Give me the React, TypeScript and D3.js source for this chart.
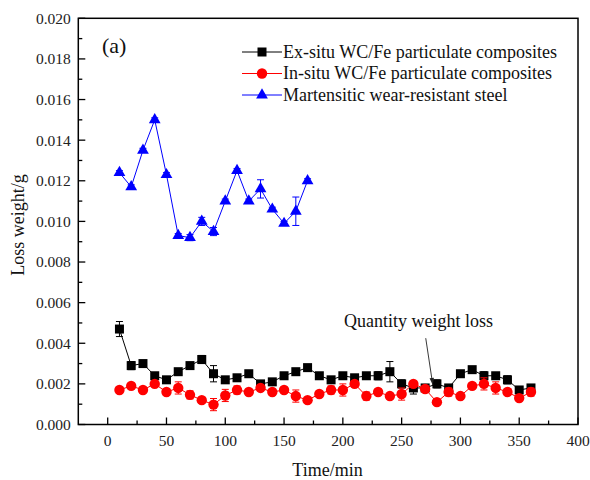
import React from "react";
import * as d3 from "d3";

const TIME_LONG = [10, 20, 30, 40, 50, 60, 70, 80, 90, 100, 110, 120, 130, 140, 150, 160, 170, 180, 190, 200, 210, 220, 230, 240, 250, 260, 270, 280, 290, 300, 310, 320, 330, 340, 350, 360];
const EX_SITU = [0.0047, 0.0029, 0.0030, 0.0024, 0.0022, 0.0026, 0.0029, 0.0032, 0.0025, 0.0022, 0.0023, 0.0025, 0.0020, 0.0021, 0.0024, 0.0026, 0.0028, 0.0024, 0.0022, 0.0024, 0.0023, 0.0024, 0.0024, 0.0026, 0.0020, 0.0018, 0.0018, 0.0020, 0.0018, 0.0025, 0.0027, 0.0024, 0.0024, 0.0022, 0.0017, 0.0018];
const EX_SITU_ERR = [0.00037, 0.0002, 0.0001, 0.0001, 0.0001, 0.0001, 0.0001, 0.0002, 0.0004, 0.0001, 0.0001, 0.0001, 0.0001, 0.0001, 0.0001, 0.00015, 0.0001, 0.0001, 0.00015, 0.0001, 0.0001, 0.00015, 0.0002, 0.0005, 0.0002, 0.0003, 0.0001, 0.0002, 0.0001, 0.0001, 0.0001, 0.0002, 0.0001, 0.0002, 0.0001, 0.0001];
const IN_SITU = [0.0017, 0.0019, 0.0017, 0.0020, 0.0016, 0.0018, 0.00146, 0.0012, 0.00098, 0.00143, 0.0017, 0.0016, 0.0018, 0.0016, 0.0017, 0.0014, 0.0012, 0.0015, 0.0017, 0.0017, 0.0020, 0.0014, 0.0016, 0.0014, 0.0015, 0.0020, 0.00175, 0.0011, 0.0016, 0.0014, 0.0019, 0.0020, 0.0018, 0.0016, 0.0013, 0.0016];
const IN_SITU_ERR = [0.0001, 0.0001, 0.0001, 0.0001, 0.0001, 0.0003, 0.0002, 0.0001, 0.0003, 0.0003, 0.0002, 0.0001, 0.0001, 0.0001, 0.0001, 0.0003, 0.0001, 0.0001, 0.0002, 0.0003, 0.0001, 0.0002, 0.0001, 0.0001, 0.0003, 0.0001, 0.0001, 0.0001, 0.0002, 0.0001, 0.0001, 0.0003, 0.0003, 0.0001, 0.0001, 0.0002];
const TIME_SHORT = [10, 20, 30, 40, 50, 60, 70, 80, 90, 100, 110, 120, 130, 140, 150, 160, 170];
const STEEL = [0.0124, 0.0117, 0.0135, 0.0150, 0.0123, 0.0093, 0.0092, 0.0100, 0.0095, 0.0110, 0.0125, 0.0110, 0.0116, 0.0106, 0.0099, 0.0105, 0.0120];
const STEEL_ERR = [0.0001, 0.0001, 0.0001, 0.0001, 0.0001, 0.0001, 0.00015, 0.0002, 0.0002, 0.0001, 0.0001, 0.0001, 0.00045, 0.0001, 0.0001, 0.0007, 0.0001];

const X_TICKS = [0, 50, 100, 150, 200, 250, 300, 350, 400];
const X_MINOR = [25, 75, 125, 175, 225, 275, 325, 375];
const Y_TICKS = [0, 0.002, 0.004, 0.006, 0.008, 0.01, 0.012, 0.014, 0.016, 0.018, 0.02];
const Y_MINOR = [0.001, 0.003, 0.005, 0.007, 0.009, 0.011, 0.013, 0.015, 0.017, 0.019];

const SERIES_NAMES = ["Ex-situ WC/Fe particulate composites", "In-situ WC/Fe particulate composites", "Martensitic wear-resistant steel"];
const SERIES_COLORS = ["#000000", "#ff0000", "#0000ff"];
const ANNOT_TEXT = "Quantity weight loss";
const ANNOT_POS = [201, 0.0048];
const ARROW_FROM = [270.5, 0.00425];
const ARROW_TO = [276.5, 0.00195];

const W = 590, H = 480;
const FONT = "'Liberation Serif', 'Times New Roman', serif";

export default function App() {
  const x = d3.scaleLinear().domain([-25, 400]).range([78.3, 578]);
  const y = d3.scaleLinear().domain([0, 0.02]).range([424.5, 18.3]);
  const fmt = d3.format(".3f");

  const series = [
    { t: TIME_LONG, v: EX_SITU, e: EX_SITU_ERR, shape: "square" },
    { t: TIME_LONG, v: IN_SITU, e: IN_SITU_ERR, shape: "circle" },
    { t: TIME_SHORT, v: STEEL, e: STEEL_ERR, shape: "triangle" },
  ];

  const marker = (shape: string, cx: number, cy: number, color: string, key: any) => {
    if (shape === "square") return <rect key={key} x={cx - 4.5} y={cy - 4.5} width={9} height={9} fill={color} />;
    if (shape === "circle") return <circle key={key} cx={cx} cy={cy} r={5.2} fill={color} />;
    const s = d3.symbol().type(d3.symbolTriangle).size(60)();
    return <path key={key} d={s as string} transform={`translate(${cx},${cy})`} fill={color} />;
  };

  const line = d3.line<[number, number]>().x((d) => x(d[0])).y((d) => y(d[1]));

  const [x0, x1] = x.range();
  const [y0, y1] = y.range();

  const ax = x(ARROW_FROM[0]), ay = y(ARROW_FROM[1]);
  const bx = x(ARROW_TO[0]), by = y(ARROW_TO[1]);
  const ang = Math.atan2(by - ay, bx - ax);
  const hl = 7, hw = 2.2;
  const head = [
    [bx, by],
    [bx - hl * Math.cos(ang) + hw * Math.sin(ang), by - hl * Math.sin(ang) - hw * Math.cos(ang)],
    [bx - hl * Math.cos(ang) - hw * Math.sin(ang), by - hl * Math.sin(ang) + hw * Math.cos(ang)],
  ];

  return (
    <svg width={W} height={H} style={{ position: "absolute", left: 0, top: 0, background: "#fff" }} fontFamily={FONT}>
      <rect x={0} y={0} width={W} height={H} fill="#fff" />
      {/* ticks */}
      {X_TICKS.map((t) => (
        <line key={"xt" + t} x1={x(t)} x2={x(t)} y1={y0} y2={y0 - 7} stroke="#000" strokeWidth={1.3} />
      ))}
      {X_MINOR.map((t) => (
        <line key={"xm" + t} x1={x(t)} x2={x(t)} y1={y0} y2={y0 - 4} stroke="#000" strokeWidth={1.3} />
      ))}
      {Y_TICKS.map((t) => (
        <line key={"yt" + t} x1={x0} x2={x0 + 7} y1={y(t)} y2={y(t)} stroke="#000" strokeWidth={1.3} />
      ))}
      {Y_MINOR.map((t) => (
        <line key={"ym" + t} x1={x0} x2={x0 + 4} y1={y(t)} y2={y(t)} stroke="#000" strokeWidth={1.3} />
      ))}
      {X_TICKS.map((t) => (
        <text key={"xl" + t} x={x(t)} y={y0 + 21} textAnchor="middle" fontSize={15.5} fill="#222">{String(t)}</text>
      ))}
      {Y_TICKS.map((t) => (
        <text key={"yl" + t} x={x0 - 7.5} y={y(t)} dy="0.35em" textAnchor="end" fontSize={15.5} fill="#222">{fmt(t)}</text>
      ))}
      {/* series */}
      {series.map((s, si) => {
        const color = SERIES_COLORS[si];
        const pts = s.t.map((t, i) => [t, s.v[i]] as [number, number]);
        return (
          <g key={"s" + si}>
            <path d={line(pts) as string} fill="none" stroke={color} strokeWidth={1} />
            {s.t.map((t, i) => {
              const cx = x(t);
              const top = y(s.v[i] + s.e[i]);
              const bot = y(s.v[i] - s.e[i]);
              return (
                <g key={"e" + i} stroke={color} strokeWidth={1}>
                  <line x1={cx} x2={cx} y1={top} y2={bot} />
                  <line x1={cx - 3.5} x2={cx + 3.5} y1={top} y2={top} />
                  <line x1={cx - 3.5} x2={cx + 3.5} y1={bot} y2={bot} />
                </g>
              );
            })}
            {s.t.map((t, i) => marker(s.shape, x(t), y(s.v[i]), color, "m" + i))}
          </g>
        );
      })}
      {/* frame */}
      <rect x={x0} y={y1} width={x1 - x0} height={y0 - y1} fill="none" stroke="#000" strokeWidth={1.5} />
      {/* panel label */}
      <text x={102} y={53} fontSize={22} fill="#111">(a)</text>
      {/* legend */}
      {SERIES_NAMES.map((n, i) => {
        const cy = 52 + i * 21.5;
        return (
          <g key={"lg" + i}>
            <line x1={242} x2={282} y1={cy} y2={cy} stroke={SERIES_COLORS[i]} strokeWidth={1} />
            {marker(series[i].shape, 262, cy, SERIES_COLORS[i], "lm" + i)}
            <text x={283} y={cy} dy="0.33em" fontSize={18} fill="#111">{n}</text>
          </g>
        );
      })}
      {/* annotation */}
      <text x={x(ANNOT_POS[0])} y={y(ANNOT_POS[1])} fontSize={18} fill="#111">{ANNOT_TEXT}</text>
      <line x1={ax} y1={ay} x2={bx} y2={by} stroke="#222" strokeWidth={0.9} />
      <path d={d3.line()(head as [number, number][]) + "Z"} fill="#222" />
      {/* axis titles */}
      <text x={327.5} y={476} textAnchor="middle" fontSize={18} fill="#111">Time/min</text>
      <text transform={`translate(24,225) rotate(-90)`} textAnchor="middle" fontSize={18} fill="#111">Loss weight/g</text>
    </svg>
  );
}
